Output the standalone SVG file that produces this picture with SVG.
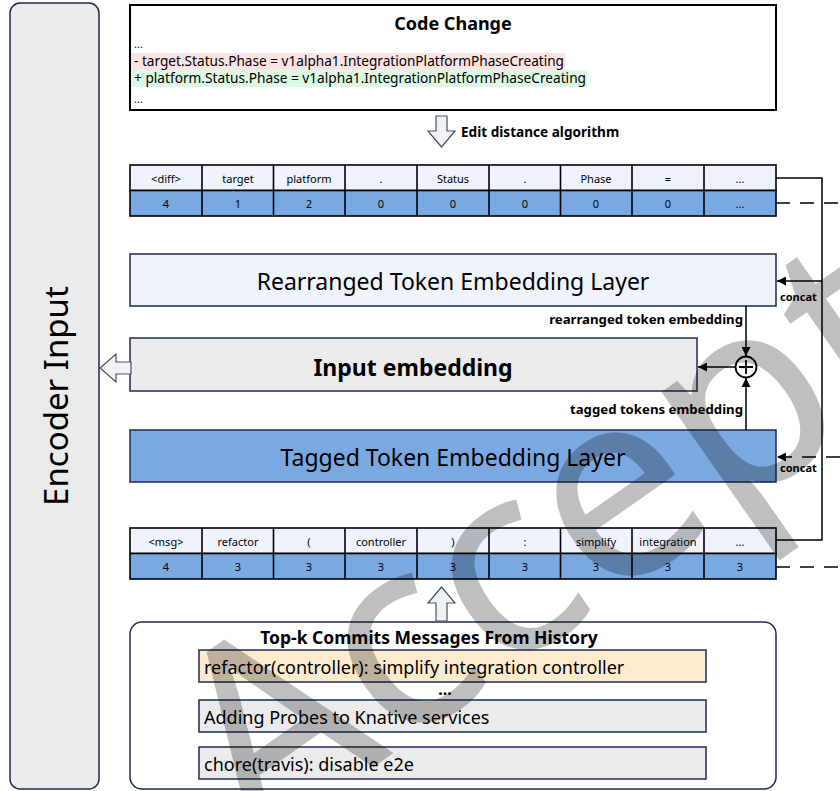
<svg xmlns="http://www.w3.org/2000/svg" width="840" height="791" viewBox="0 0 840 791">
<defs>
<style>
text{font-family:"Noto Sans","Open Sans","Liberation Sans",sans-serif;fill:#000;}
.nav{stroke:#1f2a4f;stroke-width:1.5;}
.cell{stroke:#000;stroke-width:1.6;}
.lt{fill:#eef3fc;}
.bl{fill:#7aa8e0;}
.gr{fill:#ebebeb;}
.tk{font-size:11px;text-anchor:middle;dominant-baseline:central;}
.big{font-size:23px;text-anchor:middle;dominant-baseline:central;}
.bold{font-weight:bold;}
.lbl{font-size:13.2px;font-weight:bold;dominant-baseline:central;}
.hollow{fill:#f2f2f2;stroke:#44546a;stroke-width:1.2;}
.conn{fill:none;stroke:#000;stroke-width:1.5;}
.dash{fill:none;stroke:#000;stroke-width:1.5;stroke-dasharray:14 10;}
.msg{font-size:18px;dominant-baseline:central;}
.code{font-size:13.5px;dominant-baseline:central;}
</style>
<marker id="ah" viewBox="0 0 10 10" refX="10" refY="5" markerUnits="userSpaceOnUse" markerWidth="9" markerHeight="9" orient="auto">
<path d="M0,0 L10,5 L0,10 z" fill="#000"/>
</marker>
</defs>
<rect width="840" height="791" fill="#fff"/>

<g id="encoder-input">
<rect x="10" y="3" width="89" height="786" rx="10" class="gr nav"/>
<text transform="translate(55,396) rotate(-90)" font-size="33" text-anchor="middle" dominant-baseline="central">Encoder Input</text>
</g>

<g id="code-change">
<rect x="130" y="5" width="646" height="105" fill="#fff" stroke="#000" stroke-width="2"/>
<rect x="131" y="53" width="434" height="17" fill="#fde4e4"/>
<rect x="131" y="70" width="456" height="17" fill="#dcf9e3"/>
<text x="453" y="23" font-size="18" font-weight="bold" text-anchor="middle" dominant-baseline="central">Code Change</text>
<text x="134" y="43" font-size="11" dominant-baseline="central">...</text>
<text x="134" y="61" class="code" textLength="430" lengthAdjust="spacingAndGlyphs">- target.Status.Phase = v1alpha1.IntegrationPlatformPhaseCreating</text>
<text x="134" y="78" class="code" textLength="452" lengthAdjust="spacingAndGlyphs">+ platform.Status.Phase = v1alpha1.IntegrationPlatformPhaseCreating</text>
<text x="134" y="98" font-size="11" dominant-baseline="central">...</text>
</g>

<g id="edit-distance">
<polygon class="hollow" points="436,116 447,116 447,131 455,131 441.5,147 428,131 436,131"/>
<text x="461" y="131" font-size="13.6" font-weight="bold" dominant-baseline="central">Edit distance algorithm</text>
</g>

<g id="diff-tokens">
<rect x="130" y="165" width="646" height="25.5" class="lt cell"/>
<rect x="130" y="190.5" width="646" height="25.5" class="bl cell"/>
<g class="cell">
<line x1="202" y1="165" x2="202" y2="216"/><line x1="273.5" y1="165" x2="273.5" y2="216"/><line x1="345" y1="165" x2="345" y2="216"/><line x1="417" y1="165" x2="417" y2="216"/><line x1="489" y1="165" x2="489" y2="216"/><line x1="560.5" y1="165" x2="560.5" y2="216"/><line x1="632" y1="165" x2="632" y2="216"/><line x1="704" y1="165" x2="704" y2="216"/>
</g>
<text class="tk" x="166" y="178">&lt;diff&gt;</text><text class="tk" x="238" y="178">target</text><text class="tk" x="309" y="178">platform</text><text class="tk" x="381" y="178">.</text><text class="tk" x="453" y="178">Status</text><text class="tk" x="525" y="178">.</text><text class="tk" x="596" y="178">Phase</text><text class="tk" x="668" y="178">=</text><text class="tk" x="740" y="178">...</text>
<text class="tk" x="166" y="203">4</text><text class="tk" x="238" y="203">1</text><text class="tk" x="309" y="203">2</text><text class="tk" x="381" y="203">0</text><text class="tk" x="453" y="203">0</text><text class="tk" x="525" y="203">0</text><text class="tk" x="596" y="203">0</text><text class="tk" x="668" y="203">0</text><text class="tk" x="740" y="203">...</text>
</g>

<g id="rearranged-layer">
<rect x="130" y="254" width="646" height="52" class="lt nav"/>
<text class="big" x="453" y="281">Rearranged Token Embedding Layer</text>
</g>

<g id="input-embedding">
<rect x="130" y="338" width="567" height="53" class="gr nav"/>
<text class="big bold" x="413" y="367">Input embedding</text>
</g>

<g id="tagged-layer">
<rect x="130" y="430" width="646" height="52" class="bl nav"/>
<text class="big" x="453" y="457" font-size="23.3">Tagged Token Embedding Layer</text>
</g>

<g id="msg-tokens">
<rect x="130" y="528" width="646" height="25.5" class="lt cell"/>
<rect x="130" y="553.5" width="646" height="25.5" class="bl cell"/>
<g class="cell">
<line x1="202" y1="528" x2="202" y2="579"/><line x1="273.5" y1="528" x2="273.5" y2="579"/><line x1="345" y1="528" x2="345" y2="579"/><line x1="417" y1="528" x2="417" y2="579"/><line x1="489" y1="528" x2="489" y2="579"/><line x1="560.5" y1="528" x2="560.5" y2="579"/><line x1="632" y1="528" x2="632" y2="579"/><line x1="704" y1="528" x2="704" y2="579"/>
</g>
<text class="tk" x="166" y="541">&lt;msg&gt;</text><text class="tk" x="238" y="541">refactor</text><text class="tk" x="309" y="541">(</text><text class="tk" x="381" y="541">controller</text><text class="tk" x="453" y="541">)</text><text class="tk" x="525" y="541">:</text><text class="tk" x="596" y="541">simplify</text><text class="tk" x="668" y="541">integration</text><text class="tk" x="740" y="541">...</text>
<text class="tk" x="166" y="566">4</text><text class="tk" x="238" y="566">3</text><text class="tk" x="309" y="566">3</text><text class="tk" x="381" y="566">3</text><text class="tk" x="453" y="566">3</text><text class="tk" x="525" y="566">3</text><text class="tk" x="596" y="566">3</text><text class="tk" x="668" y="566">3</text><text class="tk" x="740" y="566">3</text>
</g>

<g id="commits">
<rect x="130" y="622" width="646" height="167" rx="12" fill="#fff" class="nav"/>
<text x="429" y="637" font-size="17.5" font-weight="bold" text-anchor="middle" dominant-baseline="central">Top-k Commits Messages From History</text>
<rect x="199" y="650" width="507" height="32" fill="#fdebd0" class="nav"/>
<text x="204" y="667" class="msg">refactor(controller): simplify integration controller</text>
<text x="445" y="689" font-size="16" font-weight="bold" text-anchor="middle" dominant-baseline="central">...</text>
<rect x="199" y="700" width="507" height="32" class="gr nav"/>
<text x="204" y="717" class="msg">Adding Probes to Knative services</text>
<rect x="199" y="747" width="507" height="32" class="gr nav"/>
<text x="204" y="764" class="msg">chore(travis): disable e2e</text>
</g>

<g id="connectors">
<polygon class="hollow" points="131,362 116,362 116,354 100,368 116,382 116,374 131,374"/>
<polygon class="hollow" points="436,621 447,621 447,603 455,603 441.5,587 428,603 436,603"/>
<path class="conn" d="M776,178 H822 V540 H776"/>
<path class="conn" d="M822,281 H777" marker-end="url(#ah)"/>
<path class="dash" d="M776,203 H840"/>
<path class="dash" d="M776,567 H840"/>
<path class="dash" d="M840,457 H777" marker-end="url(#ah)"/>
<text x="780" y="296" font-size="11" font-weight="bold" dominant-baseline="central">concat</text>
<text x="780" y="467" font-size="11" font-weight="bold" dominant-baseline="central">concat</text>
<path class="conn" d="M746,306 V356" marker-end="url(#ah)"/>
<path class="conn" d="M746,430 V378" marker-end="url(#ah)"/>
<path class="conn" d="M735,367 H698" marker-end="url(#ah)"/>
<circle cx="746" cy="367" r="10.5" fill="#fff" stroke="#000" stroke-width="1.8"/>
<path d="M746,360 V374 M739,367 H753" stroke="#000" stroke-width="1.8"/>
<text x="743" y="319" class="lbl" text-anchor="end">rearranged token embedding</text>
<text x="743" y="409" class="lbl" text-anchor="end">tagged tokens embedding</text>
</g>

<text transform="translate(255,850) rotate(-35)" font-size="265" font-family="Noto Sans, Liberation Sans, sans-serif" fill="#111" fill-opacity="0.25">Accepted</text>
</svg>
